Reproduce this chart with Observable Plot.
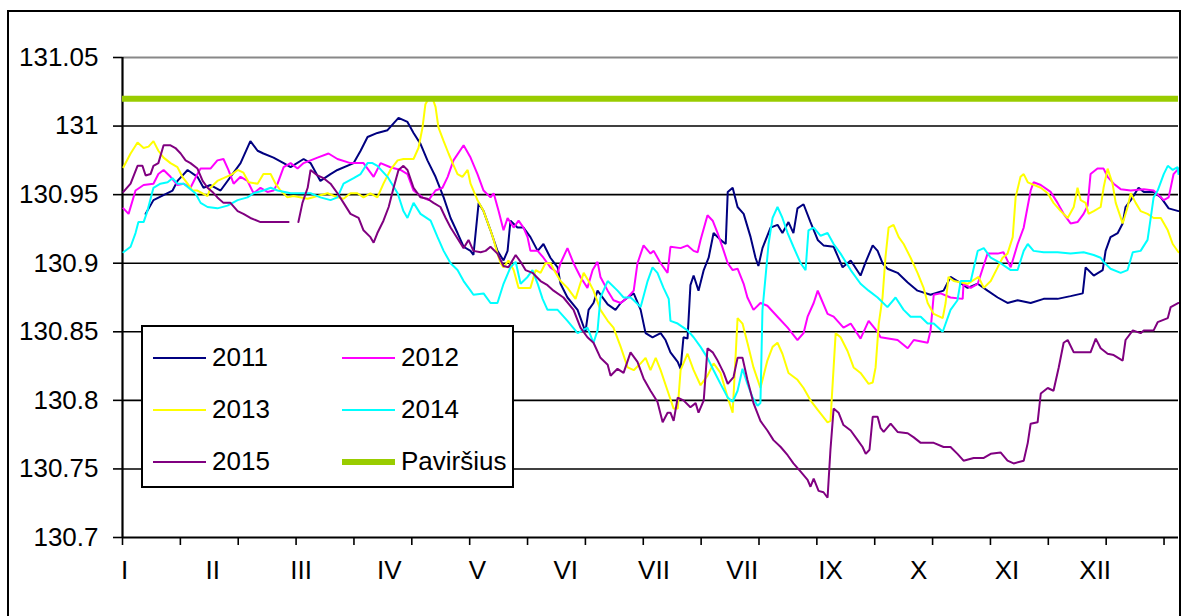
<!DOCTYPE html>
<html>
<head>
<meta charset="utf-8">
<script src="https://cdn.jsdelivr.net/npm/d3@7"></script>
<script src="https://cdn.jsdelivr.net/npm/@observablehq/plot@0.6"></script>
<style>
  html, body { margin: 0; padding: 0; background: #fff; }
  #wrap { position: relative; width: 1184px; height: 616px; overflow: hidden; font-family: "Liberation Sans", Arial, sans-serif; }
  #chart { position: absolute; left: 0; top: 0; }
  #frame { position: absolute; left: 7px; top: 10px; width: 1174px; height: 640px; border: 2px solid #000; box-sizing: border-box; pointer-events: none; }
  #legend { position: absolute; left: 141px; top: 325px; width: 373px; height: 163px; border: 2px solid #000; box-sizing: border-box; background: #fff; }
  .li { position: absolute; font-size: 26px; line-height: 26px; color: #000; white-space: nowrap; }
  .sw { position: absolute; }
</style>
</head>
<body>
<div id="wrap">
  <div id="chart"></div>
  <div id="legend"></div>
  <div id="frame"></div>
</div>
<script>
// ---- data (day of year, water level) ----
const monthLabels = ["I","II","III","IV","V","VI","VII","VII","IX","X","XI","XII"];
const yTicks = [130.7, 130.75, 130.8, 130.85, 130.9, 130.95, 131, 131.05];
const seriesNames = ["2011","2012","2013","2014","2015"];
const seriesColors = ["#000080","#FF00FF","#FFFF00","#00FFFF","#800080"];
const surfaceName = "Paviršius";
const surfaceLevel = 131.02;

const d2011 = [8,10.7,17.3,19,22.5,25.9,28,30.4,33.9,40.8,44.2,46.7,48.7,52.2,55.7,58.1,62.6,65,68.4,71.9,74.3,79.9,82.3,84.7,88.1,91.6,95.4,98.5,100.6,103,105.4,108.2,111,113.4,115.8,117.9,120.3,121.3,123.1,124.8,127.2,129.6,131.7,133.1,134.1,136.5,138.6,141,143.5,145.5,147.9,150.4,151.4,153.8,157.3,160,161.1,162.8,164.2,167.7,170.4,172.2,174.6,176.7,179.1,180.8,183.2,186,187.7,189.4,191.9,192.9,193.9,195.3,196.3,197.4,199.1,200.9,202.6,204.3,206.7,208.5,209.2,210.9,212.6,214.7,217.1,218.8,219.8,221.2,224,226.4,228.1,230.2,231.9,233.3,235.4,237.8,240.3,242.3,245.8,248.9,251.7,255.1,256.9,259.3,261,262.7,264.4,267.9,271.4,274.8,279.3,283.8,286.2,288.6,292.1,295.6,299,302.5,305.9,309.4,313.9,318.4,323.2,327.7,331.9,332.9,335.7,338.8,339.8,341.5,344,345.7,346.7,348.5,351.2,353,356.4,358.9,361.6,365];
const v2011 = [130.936,130.946,130.953,130.960,130.968,130.963,130.955,130.957,130.953,130.973,130.989,130.982,130.980,130.977,130.973,130.970,130.976,130.973,130.960,130.965,130.968,130.973,130.982,130.992,130.995,130.997,131.006,131.003,130.995,130.987,130.975,130.963,130.948,130.933,130.922,130.912,130.909,130.906,130.944,130.938,130.924,130.909,130.902,130.909,130.931,130.926,130.926,130.919,130.909,130.914,130.904,130.897,130.885,130.875,130.866,130.850,130.866,130.871,130.880,130.870,130.866,130.871,130.875,130.878,130.866,130.849,130.846,130.849,130.844,130.835,130.828,130.823,130.846,130.845,130.884,130.891,130.880,130.895,130.904,130.922,130.917,130.914,130.952,130.955,130.941,130.936,130.919,130.904,130.898,130.911,130.926,130.928,130.922,130.930,130.922,130.940,130.943,130.930,130.917,130.913,130.912,130.897,130.902,130.891,130.901,130.913,130.909,130.900,130.896,130.893,130.886,130.880,130.877,130.880,130.890,130.887,130.882,130.885,130.880,130.875,130.871,130.873,130.871,130.874,130.874,130.876,130.878,130.897,130.891,130.895,130.909,130.919,130.922,130.929,130.941,130.946,130.955,130.952,130.952,130.948,130.940,130.938];

const d2012 = [0.3,2.1,4.5,7.3,10.7,12.4,14.2,16.6,19,21.1,23.5,25.9,27,30.4,32.8,34.9,36.6,38.4,40.8,43.2,45.3,47.7,50.1,52.2,53.6,55.7,58.1,60.5,62.6,65,67.4,71.2,74.3,78.8,83.3,86.8,89.2,92.6,96.1,98.5,100.6,103.7,105.8,108.2,110.6,112.4,114.4,117.9,120.3,122.7,124.8,127.2,128.3,130,131.7,133.1,135.2,136.9,138.6,140,141,143.5,145.5,147.9,150.4,151.4,153.8,155.9,158.3,160.7,162.5,164.2,165.2,167.7,169.7,172.2,174.6,176.7,178,180.1,182.5,183.6,186,188.4,189.4,192.9,195.3,197.4,198.8,199.8,202.2,204,205.7,207.8,209.2,210.9,212.6,214.7,216,218.1,220.5,222.9,226.4,229.9,233.3,235.4,236.8,238.9,240.3,241.3,243.7,245.8,249.2,251.7,255.1,257.9,261,262,267.9,271.4,273.5,278.3,279.3,280.4,282.8,286.2,290.4,290.7,293.2,295.6,299,302.5,304.5,307,309.4,311.5,313.9,314.9,317.4,320.8,323.2,325.3,327.7,330.1,332.2,333.6,334.6,337,339.1,340.5,342.6,345,348.5,353,356.4,359.9,361.6,363.3,365];
const v2012 = [130.940,130.936,130.953,130.957,130.958,130.965,130.968,130.963,130.957,130.958,130.955,130.965,130.969,130.969,130.975,130.976,130.968,130.958,130.963,130.960,130.951,130.955,130.952,130.953,130.958,130.970,130.973,130.969,130.973,130.975,130.977,130.980,130.976,130.973,130.973,130.963,130.973,130.970,130.968,130.965,130.953,130.948,130.946,130.953,130.955,130.963,130.975,130.986,130.977,130.965,130.953,130.948,130.951,130.938,130.924,130.933,130.926,130.931,130.926,130.919,130.909,130.909,130.904,130.897,130.893,130.900,130.911,130.900,130.890,130.882,130.895,130.901,130.890,130.880,130.873,130.871,130.875,130.880,130.900,130.913,130.907,130.909,130.900,130.893,130.912,130.911,130.913,130.909,130.908,130.917,130.935,130.931,130.922,130.909,130.900,130.895,130.896,130.885,130.875,130.866,130.871,130.869,130.861,130.853,130.844,130.849,130.861,130.871,130.880,130.875,130.863,130.861,130.853,130.856,130.845,130.858,130.850,130.846,130.844,130.838,130.844,130.842,130.851,130.877,130.878,130.875,130.874,130.885,130.882,130.885,130.907,130.907,130.908,130.897,130.914,130.926,130.953,130.959,130.957,130.952,130.944,130.936,130.929,130.930,130.936,130.942,130.965,130.969,130.969,130.963,130.958,130.954,130.953,130.954,130.953,130.946,130.948,130.965,130.969];

const d2013 = [0.3,2.8,5.2,7.3,9,10.7,12.4,14.2,16.6,19,20.7,22.5,24.2,25.9,29.4,30.4,32.8,34.9,38,39.8,41.8,43.6,46.7,48.7,51.2,52.9,54.6,57,59.1,64,67.4,70.9,74.3,76.4,78.8,81.2,83.3,85.7,88.1,90.2,92.6,95.1,97.1,100.6,102.3,103.7,104.7,105.8,107.2,108.2,109.2,111,112.7,114.1,115.8,117.5,119.3,120.3,122.7,124.8,127.2,128.3,129.6,130.7,131.7,133.4,135.2,136.9,138.6,141,142.8,144.5,146.2,147.9,149.7,151.4,153.8,156.6,159.4,161.1,162.8,165.2,167.7,169.7,172.2,174.6,176.7,179.1,180.8,182.5,184.3,186,188.4,190.5,191.9,192.9,195.3,197.4,199.8,202.2,204.3,206.7,209.2,210.9,212.6,214.3,216,218.1,220.5,222.9,224.7,226.4,228.1,230.2,233.3,235.4,237.8,240.3,243.7,244.7,246.5,248.2,250.6,252.7,255.1,257.9,259.3,260.3,261.4,262.7,263.7,264.8,266.5,268.3,270,272.4,274.8,276.9,278.3,280.4,283.5,284.5,285.5,287.3,292.1,295.9,297.7,300.1,302.5,304.2,305.9,307.7,308.7,310.4,311.5,312.9,317.4,319.8,321.8,324.3,326.7,328.8,330.1,331.2,332.9,333.9,335.7,338.1,339.1,340.5,342.2,343.3,345.7,347.4,348.5,350.2,351.9,354.3,356.4,358.9,361.3,363,365];
const v2013 = [130.970,130.980,130.988,130.984,130.985,130.989,130.982,130.977,130.973,130.970,130.963,130.958,130.953,130.953,130.949,130.955,130.960,130.962,130.965,130.968,130.966,130.959,130.958,130.965,130.965,130.958,130.953,130.948,130.949,130.947,130.949,130.951,130.948,130.947,130.951,130.951,130.948,130.951,130.948,130.958,130.968,130.975,130.976,130.976,130.984,130.999,131.016,131.020,131.020,131.014,130.999,130.989,130.980,130.973,130.965,130.963,130.968,130.958,130.946,130.938,130.924,130.917,130.907,130.900,130.897,130.902,130.895,130.882,130.882,130.882,130.895,130.893,130.900,130.900,130.893,130.887,130.882,130.874,130.893,130.887,130.880,130.866,130.858,130.853,130.839,130.824,130.822,130.827,130.831,130.822,130.831,130.822,130.807,130.794,130.794,130.822,130.834,130.822,130.811,130.818,130.827,130.820,130.802,130.791,130.860,130.856,130.842,130.824,130.809,130.829,130.839,130.842,130.834,130.820,130.815,130.809,130.800,130.793,130.784,130.785,130.849,130.846,130.836,130.824,130.820,130.812,130.813,130.824,130.856,130.875,130.904,130.926,130.928,130.919,130.914,130.904,130.893,130.882,130.871,130.863,130.860,130.871,130.890,130.887,130.885,130.890,130.882,130.887,130.897,130.904,130.907,130.919,130.948,130.963,130.965,130.959,130.955,130.951,130.944,130.938,130.933,130.941,130.955,130.946,130.944,130.936,130.938,130.941,130.955,130.969,130.958,130.944,130.929,130.941,130.951,130.944,130.938,130.936,130.933,130.933,130.924,130.914,130.908];

const d2014 = [0.3,2.8,4.5,5.5,7.3,8.6,10.7,13.1,15.6,17.3,19,21.1,23.5,25.2,27,29.4,32.8,36.3,39.8,43.2,45.3,48.7,51.2,53.6,58.1,61.5,65,68.4,71.9,74.3,76.4,79.9,82.3,84.7,86.4,88.1,91.6,95.1,97.1,98.5,100.6,103,106.5,108.9,111,113.4,115.8,117.9,120.3,121.3,124.8,127.2,129.6,131.7,134.1,135.9,137.6,140,141.7,143.5,145.2,146.9,150.4,153.8,157.3,160.7,162.8,164.2,165.2,167.7,171.1,173.2,175.6,176.7,179.1,181.5,183.2,184.9,187,188.8,189.4,191.9,195.3,197.4,199.8,202.2,204.3,206.7,209.2,210.9,212.6,214.3,216,217.8,219.5,220.5,221.2,222.3,223.3,224.7,226.4,228.1,229.9,231.9,234.4,236.1,237.1,238.9,241.3,243.7,245.8,248.2,251.7,255.1,257.9,261,264.4,267.2,270,272.4,275.9,278.3,280.4,283.5,286.2,288.6,289.7,293.2,295.6,297.7,300.1,303.5,307,309.4,311.5,312.9,314.9,318.4,323.2,327.7,332.2,335.7,338.1,339.1,341.5,345,347.4,349.2,351.9,354.3,355.4,356.4,357.8,359.9,361.3,363,364.7,365];
const v2014 = [130.908,130.912,130.922,130.930,130.930,130.938,130.955,130.958,130.959,130.962,130.958,130.958,130.954,130.951,130.944,130.941,130.940,130.942,130.946,130.948,130.951,130.953,130.955,130.953,130.951,130.951,130.951,130.948,130.946,130.948,130.958,130.962,130.965,130.973,130.973,130.971,130.963,130.951,130.938,130.933,130.944,130.936,130.931,130.919,130.909,130.900,130.895,130.887,130.880,130.877,130.878,130.871,130.871,130.885,130.897,130.901,130.885,130.890,130.895,130.885,130.874,130.866,130.866,130.858,130.849,130.853,130.842,130.851,130.875,130.887,130.880,130.875,130.875,130.873,130.868,130.887,130.897,130.893,130.882,130.874,130.858,130.856,130.851,130.846,130.839,130.831,130.822,130.812,130.802,130.799,130.807,130.823,130.812,130.802,130.796,130.798,130.866,130.891,130.914,130.933,130.941,130.933,130.922,130.912,130.900,130.895,130.924,130.926,130.920,130.922,130.914,130.907,130.895,130.885,130.880,130.875,130.868,130.875,130.866,130.861,130.861,130.856,130.856,130.850,130.866,130.873,130.887,130.887,130.909,130.911,130.904,130.900,130.895,130.895,130.909,130.914,130.909,130.908,130.908,130.907,130.908,130.906,130.904,130.901,130.896,130.893,130.895,130.908,130.909,130.917,130.933,130.948,130.953,130.965,130.971,130.968,130.970,130.965];

const d2015 = [0.3,2.8,5.2,6.9,8,9.7,10.7,12.4,14.2,16.6,18.3,20.1,21.8,23.5,25.9,27.7,29.4,31.1,32.8,34.9,37.3,39.8,41.8,44.2,47.7,51.2,54.6,57.4,59,60.8,62.2,64,65,67.4,69.5,71.9,74.3,76.4,78.8,81.6,83.3,85.7,86.8,88.1,90.2,92,93.7,95.4,97.1,98.5,100.6,103,105.4,107.5,109.9,111.7,113.4,115.8,117.9,119.6,121.3,123.8,125.5,127.2,129.6,131.7,133.4,135.9,137.6,139.3,141.7,144.5,146.9,149,152.4,155.9,158.3,160.7,162.8,165.2,167.7,168.7,171.1,173.2,175.6,178,180.1,182.5,184.9,186.7,188.4,189.4,190.5,191.9,193.9,196.3,198.1,199.1,200.9,202.2,204,205.7,207.8,209.2,211.2,212.6,214.3,216,218.1,220.5,222.9,225,227.5,229.9,231.9,234.4,236.8,237.8,238.9,240.6,242.3,243.7,244.7,245.8,247.5,249.2,251.7,254.1,255.8,256.9,258.2,259.3,261,262,263.1,265.5,267.9,271.4,273.5,275.9,280.4,283.8,286.2,288.6,290.7,294.2,297.7,300.1,303.5,305.9,308,311.5,312.9,313.9,316.3,317.4,319.8,321.8,323.6,325.3,326.7,328.8,332.2,334.6,336.4,338.1,340.5,342.6,345.7,346.7,349.2,351.9,353,356.4,357.8,361.3,362.3,365];
const v2015 = [130.952,130.958,130.971,130.971,130.964,130.965,130.971,130.973,130.986,130.986,130.984,130.980,130.975,130.973,130.969,130.960,130.955,130.952,130.948,130.944,130.944,130.938,130.936,130.933,130.930,130.930,130.930,130.930,null,130.930,130.944,130.955,130.968,130.964,130.962,130.958,130.951,130.944,130.936,130.933,130.924,130.919,130.915,130.922,130.931,130.941,130.955,130.968,130.971,130.968,130.955,130.948,130.947,130.944,130.941,130.933,130.926,130.918,130.911,130.917,130.909,130.908,130.909,130.912,130.907,130.898,130.897,130.906,130.901,130.895,130.893,130.887,130.884,130.880,130.875,130.866,130.853,130.846,130.842,130.831,130.826,130.818,130.823,130.820,130.835,130.828,130.816,130.807,130.799,130.784,130.791,130.791,130.785,130.802,130.800,130.795,130.798,130.791,130.800,130.838,130.835,130.829,130.820,130.812,130.817,130.831,130.831,130.815,130.798,130.785,130.778,130.771,130.766,130.760,130.754,130.748,130.742,130.737,130.743,130.734,130.733,130.729,130.764,130.794,130.791,130.782,130.778,130.771,130.766,130.761,130.764,130.788,130.788,130.780,130.777,130.783,130.777,130.776,130.773,130.769,130.769,130.766,130.766,130.761,130.756,130.758,130.758,130.761,130.762,130.756,130.754,130.756,130.769,130.783,130.784,130.805,130.809,130.807,130.824,130.842,130.844,130.835,130.835,130.835,130.845,130.838,130.834,130.833,130.829,130.844,130.851,130.849,130.851,130.851,130.857,130.860,130.868,130.871];

// ---- build table ----
const dayArrays = [d2011, d2012, d2013, d2014, d2015];
const valArrays = [v2011, v2012, v2013, v2014, v2015];
const rows = [];
seriesNames.forEach((name, s) => {
  dayArrays[s].forEach((d, i) => rows.push({series: name, day: d, value: valArrays[s][i]}));
});

const yearDays = 365;
const tickStep = 20;
const tickDays = d3.range(0, yearDays, tickStep);
const labelStep = 30.5;
const labelOffset = 0.7;
const fontFamily = '"Liberation Sans", Arial, sans-serif';
const fmt = d => String(+d.toFixed(2));

const plot = Plot.plot({
  width: 1184,
  height: 616,
  marginLeft: 122,
  marginRight: 6,
  marginTop: 57,
  marginBottom: 79,
  style: {fontFamily, fontSize: "26px", color: "#000", background: "transparent", overflow: "visible"},
  x: {domain: [0, yearDays]},
  y: {domain: [130.7, 131.05]},
  color: {domain: seriesNames, range: seriesColors},
  marks: [
    Plot.gridY(yTicks.filter(t => t > 130.7 && t < 131.05), {stroke: "#000", strokeOpacity: 1, strokeWidth: 1.6}),
    Plot.ruleY([131.05], {stroke: "#888", strokeWidth: 2}),
    Plot.axisY({ticks: yTicks, tickSize: 9, tickPadding: 15, tickFormat: fmt, fontSize: 26, stroke: "#000", strokeWidth: 1.6, label: null}),
    Plot.axisX({ticks: tickDays, tickSize: 8, tickFormat: () => "", stroke: "#000", strokeWidth: 1.6, label: null}),
    Plot.text(monthLabels, {x: (d, i) => labelOffset + i * labelStep, frameAnchor: "bottom", dy: 41, fontSize: 26, fill: "#000", text: d => d}),
    Plot.ruleX([0], {stroke: "#000", strokeWidth: 2.2}),
    Plot.ruleY([130.7], {stroke: "#000", strokeWidth: 2.2}),
    Plot.line(rows, {x: "day", y: "value", z: "series", stroke: "series", strokeWidth: 2, curve: "linear", strokeLinejoin: "miter"}),
    Plot.ruleY([surfaceLevel], {stroke: "#99CC00", strokeWidth: 6})
  ]
});
document.getElementById("chart").appendChild(plot);

// ---- legend ----
const legend = document.getElementById("legend");
const items = seriesNames.map((n, i) => ({name: n, color: seriesColors[i], w: 2}));
items.push({name: surfaceName, color: "#99CC00", w: 6});
const rowY = [31, 83, 135];
const colX = [10, 199];
items.forEach((it, i) => {
  const r = Math.floor(i / 2), c = i % 2;
  const sw = document.createElement("div");
  sw.className = "sw";
  sw.style.left = colX[c] + "px";
  sw.style.width = "53px";
  sw.style.height = it.w + "px";
  sw.style.top = (rowY[r] - it.w / 2) + "px";
  sw.style.background = it.color;
  legend.appendChild(sw);
  const tx = document.createElement("div");
  tx.className = "li";
  tx.style.left = (colX[c] + 59) + "px";
  tx.style.top = (rowY[r] - 14) + "px";
  tx.textContent = it.name;
  legend.appendChild(tx);
});
</script>
</body>
</html>
